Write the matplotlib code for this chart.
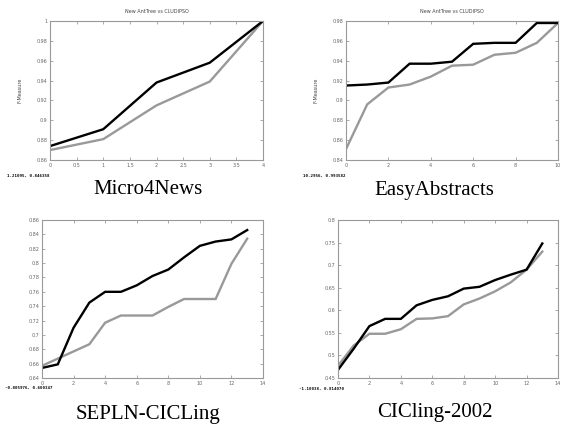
import matplotlib
matplotlib.use("Agg")
import matplotlib.pyplot as plt
import numpy as np

# Micro4News
m4n_x = [0, 1, 2, 3, 4]
m4n_ant = [0.874, 0.891, 0.938, 0.958, 1.0]
m4n_clu = [0.870, 0.881, 0.915, 0.939, 1.0]

# EasyAbstracts
easy_x = [0, 1, 2, 3, 4, 5, 6, 7, 8, 9, 10]
easy_ant = [0.915, 0.916, 0.918, 0.937, 0.937, 0.939, 0.957, 0.958, 0.958, 0.978, 0.978]
easy_clu = [0.851, 0.896, 0.913, 0.916, 0.924, 0.935, 0.936, 0.946, 0.948, 0.958, 0.978]

# SEPLN-CICLing
sep_x = list(range(14))
sep_ant = [0.654, 0.659, 0.710, 0.745, 0.760, 0.760, 0.769, 0.782, 0.791, 0.808,
           0.824, 0.830, 0.833, 0.846]
sep_clu = [0.657, 0.667, 0.677, 0.687, 0.717, 0.727, 0.727, 0.727, 0.739, 0.750,
           0.750, 0.750, 0.799, 0.834]

# CICling-2002
cic_x = list(range(14))
cic_ant = [0.468, 0.515, 0.565, 0.581, 0.581, 0.611, 0.623, 0.631, 0.648, 0.652,
           0.667, 0.679, 0.690, 0.748]
cic_clu = [0.477, 0.522, 0.548, 0.548, 0.558, 0.581, 0.582, 0.587, 0.613, 0.626,
           0.642, 0.662, 0.690, 0.730]

W, H = 561, 426
fig = plt.figure(figsize=(W / 100, H / 100), dpi=100)


def px_axes(left, top, right, bottom):
    # pixel box -> figure fraction
    return fig.add_axes([left / W, (H - bottom) / H, (right - left) / W, (bottom - top) / H])


def draw_panel(box, x, ant, clu, xticks, yticks, ylabels, xlabels, name, name_xy,
               coord, coord_xy, title=True):
    ax = px_axes(*box)
    ax.plot(x, clu, color="#999999", lw=1.7, solid_joinstyle="miter")
    ax.plot(x, ant, color="black", lw=1.7, solid_joinstyle="miter")
    ax.set_xlim(xticks[0], xticks[-1])
    ax.set_ylim(yticks[0], yticks[-1])
    ax.set_xticks(xticks)
    ax.set_xticklabels(xlabels)
    ax.set_yticks(yticks)
    ax.set_yticklabels(ylabels)
    ax.tick_params(direction="in", length=2, width=0.5, color="#888888",
                   labelsize=3.5, labelcolor="#666666", pad=2,
                   top=True, right=True)
    for s in ax.spines.values():
        s.set_color("#999999")
        s.set_linewidth(0.8)
    if title:
        ax.set_title("New AntTree vs CLUDIPSO", fontsize=3.5, color="#444444", pad=6)
        ax.set_ylabel("F-Measure", fontsize=3.5, color="#444444", labelpad=10)
    fig.text(name_xy[0] / W, 1 - name_xy[1] / H, name, ha="center", va="center",
             fontsize=15, family="Liberation Serif")
    # cursor readout left of the x axis
    fig.text(coord_xy[0] / W, 1 - coord_xy[1] / H, coord, ha="left", va="center",
             fontsize=3.0, family="DejaVu Sans Mono", weight="bold")
    return ax


def fmt(v):
    s = ("%.2f" % v).rstrip("0").rstrip(".")
    return s


t1 = [0.86, 0.88, 0.9, 0.92, 0.94, 0.96, 0.98, 1.0]
draw_panel((50, 21, 263, 160), m4n_x, m4n_ant, m4n_clu,
           [0, 0.5, 1, 1.5, 2, 2.5, 3, 3.5, 4], t1, [fmt(v) for v in t1],
           ["0", "0.5", "1", "1.5", "2", "2.5", "3", "3.5", "4"],
           "Micro4News", (148, 190), "1.21095, 0.846358", (7, 176))

t2 = [0.84, 0.86, 0.88, 0.9, 0.92, 0.94, 0.96, 0.98]
draw_panel((346, 21, 558, 160), easy_x, easy_ant, easy_clu,
           [0, 2, 4, 6, 8, 10], t2, [fmt(v) for v in t2],
           ["0", "2", "4", "6", "8", "10"],
           "EasyAbstracts", (434, 190), "10.2956, 0.993582", (303, 176))

t3 = [0.64, 0.66, 0.68, 0.7, 0.72, 0.74, 0.76, 0.78, 0.8, 0.82, 0.84, 0.86]
draw_panel((42, 220, 263, 378), sep_x, sep_ant, sep_clu,
           [0, 2, 4, 6, 8, 10, 12, 14], t3, [fmt(v) for v in t3],
           ["0", "2", "4", "6", "8", "10", "12", "14"],
           "SEPLN-CICLing", (148, 414), "-0.805976, 0.600347", (5, 388), title=False)

t4 = [0.45, 0.5, 0.55, 0.6, 0.65, 0.7, 0.75, 0.8]
draw_panel((338, 220, 558, 378), cic_x, cic_ant, cic_clu,
           [0, 2, 4, 6, 8, 10, 12, 14], t4, [fmt(v) for v in t4],
           ["0", "2", "4", "6", "8", "10", "12", "14"],
           "CICling-2002", (435, 413), "-1.10038, 0.814070", (299, 389), title=False)

fig.savefig("out.png", dpi=100)
